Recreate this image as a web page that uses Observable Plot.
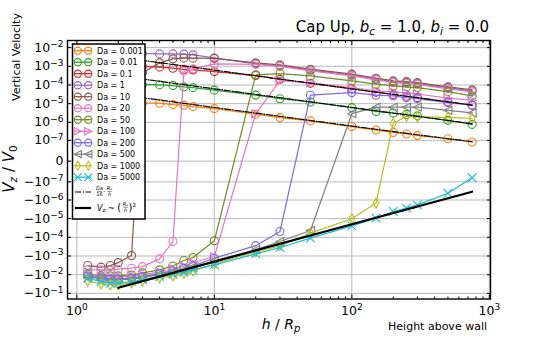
<!DOCTYPE html>
<html><head><meta charset="utf-8">
<script src="https://cdn.jsdelivr.net/npm/d3@7"></script>
<script src="https://cdn.jsdelivr.net/npm/@observablehq/plot@0.6"></script>
<style>body{margin:0;background:#fff} svg{display:block}</style>
</head><body><div id="chart"></div>
<script>
// ---- data (h / Rp values shared by every series) ----
const heights = [1.2, 1.5, 1.75, 2, 2.5, 3, 4, 5, 6, 7, 10, 20, 30, 50, 100, 150, 200, 250, 300, 500, 750];
const da0001 = [1.32e-5, 1.32e-5, 1.24e-5, 1.24e-5, 1.17e-5, 1.10e-5, 1.06e-5, 8.9e-6, 8.3e-6, 6.95e-6, 5.43e-6, 2.72e-6, 1.79e-6, 1.19e-6, 5.89e-7, 3.78e-7, 2.81e-7, 2.31e-7, 1.87e-7, 1.24e-7, 8.1e-8];
const da001 = [1.29e-4, 1.29e-4, 1.22e-4, 1.22e-4, 1.14e-4, 1.08e-4, 1.01e-4, 9.3e-5, 7.9e-5, 7.2e-5, 5.3e-5, 2.87e-5, 1.84e-5, 1.23e-5, 6.1e-6, 3.84e-6, 3.12e-6, 2.65e-6, 2.21e-6, 1.27e-6, 7.7e-7];
const da01 = [1.19e-3, 1.19e-3, 1.12e-3, 1.12e-3, 1.05e-3, 9.9e-4, 9.0e-4, 7.9e-4, 6.8e-4, 6.4e-4, 5.2e-4, 3.2e-4, 2.0e-4, 1.22e-4, 6.2e-5, 4.1e-5, 3.1e-5, 2.5e-5, 2.1e-5, 1.24e-5, 8.3e-6];
const da1 = [5.25e-3, 5.25e-3, 5.25e-3, 5.25e-3, 4.9e-3, 4.9e-3, 4.6e-3, 4.6e-3, 4.5e-3, 4.1e-3, 2.8e-3, 1.35e-3, 1.05e-3, 6.2e-4, 3.35e-4, 2.04e-4, 1.46e-4, 1.34e-4, 1.19e-4, 7.0e-5, 4.8e-5];
const da10 = [-3.25e-3, -3.96e-3, -3.25e-3, -2.25e-3, -9.5e-4, 4.45e-4, 1.53e-3, 2.5e-3, 2.73e-3, 2.73e-3, 2.66e-3, 1.53e-3, 1.19e-3, 7.0e-4, 3.79e-4, 2.31e-4, 1.66e-4, 1.52e-4, 1.34e-4, 7.9e-5, 5.46e-5];
const da20 = [-5.5e-3, -5.5e-3, -5.9e-3, -5.1e-3, -4.5e-3, -3.7e-3, -1.42e-3, -1.68e-4, 5.5e-4, 7.3e-4, 1.35e-3, 1.27e-3, 9.9e-4, 5.7e-4, 3.07e-4, 1.87e-4, 1.34e-4, 1.22e-4, 1.08e-4, 6.2e-5, 4.3e-5];
const da50 = [-9.1e-3, -1.16e-2, -1.16e-2, -1.16e-2, -1.03e-2, -8.0e-3, -5.5e-3, -3.4e-3, -1.75e-3, -1.21e-3, -1.54e-4, 3.5e-4, 4.1e-4, 3.07e-4, 1.66e-4, 1.1e-4, 8.9e-5, 7.9e-5, 7.3e-5, 4.4e-5, 2.6e-5];
const da100 = [-1.03e-2, -1.31e-2, -1.31e-2, -1.31e-2, -1.16e-2, -1.03e-2, -7.1e-3, -4.9e-3, -3.4e-3, -2.3e-3, -1.07e-3, 2.9e-6, 1.66e-4, 1.34e-4, 7.0e-5, 4.8e-5, 4.3e-5, 3.8e-5, 3.3e-5, 2.0e-5, 1.53e-5];
const da200 = [-1.16e-2, -1.48e-2, -1.68e-2, -1.68e-2, -1.48e-2, -1.31e-2, -8.5e-3, -6.3e-3, -4.6e-3, -3.4e-3, -1.31e-3, -2.8e-4, -4.9e-5, 2.84e-5, 3.9e-5, 2.84e-5, 2.6e-5, 2.1e-5, 1.87e-5, 1.14e-5, 8.3e-6];
const da500 = [-1.31e-2, -1.68e-2, -1.9e-2, -1.9e-2, -1.68e-2, -1.48e-2, -9.6e-3, -7.1e-3, -5.5e-3, -4.1e-3, -1.82e-3, -4.7e-4, -1.68e-4, -4.3e-5, 2.9e-6, 6.5e-6, 6.5e-6, 6.5e-6, 6.5e-6, 4.35e-6, 3.2e-6];
const da1000 = [-2.15e-2, -3.1e-2, -3.5e-2, -3.5e-2, -2.75e-2, -2.15e-2, -1.48e-2, -1.16e-2, -8.5e-3, -6.3e-3, -2.6e-3, -6.0e-4, -2.9e-4, -6.0e-5, -1.02e-5, -1.47e-6, 8.7e-7, 2.1e-6, 1.95e-6, 1.83e-6, 1.62e-6];
const da5000 = [-1.54e-2, -2.34e-2, -2.86e-2, -2.86e-2, -2.34e-2, -1.9e-2, -1.26e-2, -9.4e-3, -7.35e-3, -5.5e-3, -2.98e-3, -7.7e-4, -3.5e-4, -1.11e-4, -2.43e-5, -9.4e-6, -4.15e-6, -2.73e-6, -1.82e-6, -4.3e-7, -5.7e-8];

const seriesLabels = ["Da = 0.001", "Da = 0.01", "Da = 0.1", "Da = 1", "Da = 10", "Da = 20", "Da = 50", "Da = 100", "Da = 200", "Da = 500", "Da = 1000", "Da = 5000"];
const seriesValues = [da0001, da001, da01, da1, da10, da20, da50, da100, da200, da500, da1000, da5000];
const seriesColors = ["#ff7f0e", "#2ca02c", "#d62728", "#9467bd", "#8c564b", "#e377c2", "#6b8e23", "#e377c2", "#7b68ee", "#7f7f7f", "#bcbd22", "#17becf"];
const seriesMarkers = ["circle", "circle", "circle", "circle", "circle", "circle", "circle", "triRight", "circle", "triLeft", "thinDiamond", "times"];

// reference lines
const guideH = [1.2, 10, 100, 300, 750];
const guideDa0001 = [5.2e-5, 6.25e-6, 6.25e-7, 2.08e-7, 8.3e-8];
const guideDa001 = [5.2e-4, 6.25e-5, 6.25e-6, 2.08e-6, 8.3e-7];
const guideDa01 = [5.2e-3, 6.25e-4, 6.25e-5, 2.08e-5, 8.3e-6];
const slopeH = [2, 10, 100, 750];
const slopeV = [-5e-2, -2e-3, -2e-5, -3.56e-7];

// ticks
const xMajor = [1, 10, 100, 1000];
const xMinor = [2,3,4,5,6,7,8,9,20,30,40,50,60,70,80,90,200,300,400,500,600,700,800,900];
const yTicks = [1e-2, 1e-3, 1e-4, 1e-5, 1e-6, 1e-7, 0, -1e-7, -1e-6, -1e-5, -1e-4, -1e-3, -1e-2, -1e-1];

// ---- symbols ----
const symbolsByName = {
  circle: "circle",
  times: "times",
  triRight: {draw(c, size) { const r = Math.sqrt(size / Math.PI); c.moveTo(r, 0); c.lineTo(-r, -r); c.lineTo(-r, r); c.closePath(); }},
  triLeft: {draw(c, size) { const r = Math.sqrt(size / Math.PI); c.moveTo(-r, 0); c.lineTo(r, -r); c.lineTo(r, r); c.closePath(); }},
  thinDiamond: {draw(c, size) { const r = Math.sqrt(size / Math.PI); c.moveTo(0, -1.25 * r); c.lineTo(0.75 * r, 0); c.lineTo(0, 1.25 * r); c.lineTo(-0.75 * r, 0); c.closePath(); }}
};

const rows = [];
seriesLabels.forEach((name, i) => heights.forEach((h, j) => rows.push({name, h, v: seriesValues[i][j]})));
const guides = [];
[guideDa0001, guideDa001, guideDa01].forEach((arr, i) => guideH.forEach((h, j) => guides.push({g: i, h, v: arr[j]})));
const slope = slopeH.map((h, j) => ({h, v: slopeV[j]}));

const fmt = (d) => {
  if (d === 0) return "0";
  const e = Math.round(Math.log10(Math.abs(d)));
  return (d < 0 ? "\u2212" : "") + "10^" + String(e).replace("-", "\u2212");
};

const seriesMarks = [];
seriesLabels.forEach((name, i) => {
  const data = rows.filter(d => d.name === name);
  seriesMarks.push(Plot.line(data, {x: "h", y: "v", stroke: seriesColors[i], strokeWidth: 1.2}));
  seriesMarks.push(Plot.dot(data, {x: "h", y: "v", stroke: seriesColors[i], fill: "none", r: 4, strokeWidth: 1.1, symbol: symbolsByName[seriesMarkers[i]]}));
});

const chart = Plot.plot({
  width: 545, height: 337,
  marginLeft: 67, marginRight: 55, marginTop: 40, marginBottom: 38.5,
  x: {type: "log", domain: [0.855, 1020]},
  y: {type: "symlog", constant: 8.4e-9, domain: [-0.2, 0.024]},
  style: {fontFamily: "DejaVu Sans", fontSize: "12.5px", color: "black", background: "white"},
  marks: [
    Plot.gridX({ticks: xMajor, stroke: "#b8b8b8", strokeOpacity: 1, strokeWidth: 1}),
    Plot.gridY({ticks: yTicks, stroke: "#b8b8b8", strokeOpacity: 1, strokeWidth: 1}),
    ...seriesMarks,
    Plot.line(guides, {x: "h", y: "v", z: "g", stroke: "black", strokeWidth: 1.2, strokeDasharray: "6.4,1.6,1,1.6"}),
    Plot.line(slope, {x: "h", y: "v", stroke: "black", strokeWidth: 2.2}),
    Plot.frame({stroke: "black", strokeWidth: 1.4}),
    Plot.axisX({anchor: "bottom", ticks: xMajor, tickSize: 0, tickPadding: 7, tickFormat: fmt, label: null}),
    Plot.axisY({anchor: "left", ticks: yTicks, tickSize: 0, tickPadding: 4, tickFormat: fmt, label: null}),
    Plot.axisX({anchor: "bottom", ticks: xMajor, tickSize: -4, tickFormat: () => "", label: null}),
    Plot.axisX({anchor: "bottom", ticks: xMinor, tickSize: -2, tickFormat: () => "", label: null}),
    Plot.axisX({anchor: "top", ticks: xMajor, tickSize: -4, tickFormat: () => "", label: null}),
    Plot.axisX({anchor: "top", ticks: xMinor, tickSize: -2, tickFormat: () => "", label: null}),
    Plot.axisY({anchor: "left", ticks: yTicks, tickSize: -4, tickFormat: () => "", label: null}),
    Plot.axisY({anchor: "right", ticks: yTicks, tickSize: -4, tickFormat: () => "", label: null})
  ]
});
document.getElementById("chart").appendChild(chart);

// superscripts in tick labels
const svg = d3.select(chart);
svg.selectAll("text").each(function() {
  const t = this.textContent;
  if (!t.includes("^")) return;
  const [base, exp] = t.split("^");
  const el = d3.select(this);
  el.text(null);
  el.append("tspan").text(base);
  el.append("tspan").attr("dy", "-0.5em").attr("font-size", "72%").text(exp);
});

// titles and labels
const ff = "DejaVu Sans";
const title = svg.append("text").attr("x", 489).attr("y", 32).attr("text-anchor", "end").attr("font-family", ff).attr("font-size", 15).attr("fill", "black");
title.append("tspan").text("Cap Up, ");
title.append("tspan").attr("font-style", "italic").text("b");
title.append("tspan").attr("font-size", 10.5).attr("dy", 3).attr("font-style", "italic").text("c");
title.append("tspan").attr("dy", -3).text(" = 1.0, ");
title.append("tspan").attr("font-style", "italic").text("b");
title.append("tspan").attr("font-size", 10.5).attr("dy", 3).attr("font-style", "italic").text("i");
title.append("tspan").attr("dy", -3).text(" = 0.0");

svg.append("text").attr("transform", "translate(20,57) rotate(-90)").attr("text-anchor", "middle").attr("font-family", ff).attr("font-size", 11).attr("fill", "black").text("Vertical Velocity");

const yl = svg.append("text").attr("transform", "translate(14,169) rotate(-90)").attr("text-anchor", "middle").attr("font-family", ff).attr("font-size", 15).attr("fill", "black");
yl.append("tspan").attr("font-style", "italic").text("V");
yl.append("tspan").attr("font-size", 10.5).attr("dy", 3).attr("font-style", "italic").text("z");
yl.append("tspan").attr("dy", -3).text(" / ");
yl.append("tspan").attr("font-style", "italic").text("V");
yl.append("tspan").attr("font-size", 10.5).attr("dy", 3).text("0");

const xl = svg.append("text").attr("x", 281).attr("y", 329).attr("text-anchor", "middle").attr("font-family", ff).attr("font-size", 14).attr("fill", "black");
xl.append("tspan").attr("font-style", "italic").text("h");
xl.append("tspan").text(" / ");
xl.append("tspan").attr("font-style", "italic").text("R");
xl.append("tspan").attr("font-size", 10).attr("dy", 3).attr("font-style", "italic").text("p");

svg.append("text").attr("x", 487).attr("y", 329.5).attr("text-anchor", "end").attr("font-family", ff).attr("font-size", 11).attr("fill", "black").text("Height above wall");

// legend
const lg = svg.append("g").attr("font-family", ff).attr("font-size", 8).attr("fill", "black").attr("text-anchor", "start");
lg.append("rect").attr("x", 72.5).attr("y", 44).attr("width", 72.5).attr("height", 175).attr("fill", "white").attr("stroke", "black").attr("stroke-width", 1.5);
seriesLabels.forEach((name, i) => {
  const y = 50.7 + 11.5 * i;
  lg.append("line").attr("x1", 74.5).attr("x2", 91.5).attr("y1", y).attr("y2", y).attr("stroke", seriesColors[i]).attr("stroke-width", 1.3);
  const sym = symbolsByName[seriesMarkers[i]];
  const st = sym === "circle" ? d3.symbolCircle : sym === "times" ? d3.symbolTimes : sym;
  [77.8, 88.3].forEach(x => {
    lg.append("path").attr("transform", `translate(${x},${y})`).attr("d", d3.symbol(st, Math.PI * 3.6 * 3.6)()).attr("fill", "none").attr("stroke", seriesColors[i]).attr("stroke-width", 1.1);
  });
  lg.append("text").attr("x", 97).attr("y", y + 2.9).attr("text-anchor", "start").text(name);
});
// guide entries
lg.append("line").attr("x1", 75).attr("x2", 91).attr("y1", 192).attr("y2", 192).attr("stroke", "black").attr("stroke-width", 1.2).attr("stroke-dasharray", "6.4,1.6,1,1.6");
const g1 = lg.append("g").attr("font-size", 5).attr("font-style", "italic");
g1.append("text").attr("x", 99.5).attr("y", 190.3).attr("text-anchor", "middle").text("Da");
g1.append("line").attr("x1", 97).attr("x2", 102).attr("y1", 191.5).attr("y2", 191.5).attr("stroke", "black").attr("stroke-width", 0.4);
g1.append("text").attr("x", 99.5).attr("y", 196.3).attr("text-anchor", "middle").attr("font-style", "normal").text("16");
g1.append("text").attr("x", 104.2).attr("y", 193.5).attr("text-anchor", "middle").attr("font-style", "normal").attr("font-size", 7).text("\u00b7");
g1.append("text").attr("x", 109.5).attr("y", 190.3).attr("text-anchor", "middle").text("R\u209a");
g1.append("line").attr("x1", 107.3).attr("x2", 111.7).attr("y1", 191.5).attr("y2", 191.5).attr("stroke", "black").attr("stroke-width", 0.4);
g1.append("text").attr("x", 109.5).attr("y", 196.3).attr("text-anchor", "middle").text("h");

lg.append("line").attr("x1", 75).attr("x2", 91).attr("y1", 208).attr("y2", 208).attr("stroke", "black").attr("stroke-width", 2.2);
const g2 = lg.append("text").attr("x", 97).attr("y", 210.5).attr("text-anchor", "start");
g2.append("tspan").attr("font-style", "italic").text("V");
g2.append("tspan").attr("font-size", 5.5).attr("dy", 1.5).attr("font-style", "italic").text("z");
g2.append("tspan").attr("dy", -1.5).text(" ~ ");
g2.append("tspan").attr("font-size", 10).attr("dy", 0.5).text("(");
const frx = 125.5;
lg.append("text").attr("x", frx).attr("y", 205.8).attr("text-anchor", "middle").attr("font-size", 5).attr("font-style", "italic").text("R\u209a");
lg.append("line").attr("x1", frx - 2.5).attr("x2", frx + 2.5).attr("y1", 207.3).attr("y2", 207.3).attr("stroke", "black").attr("stroke-width", 0.4);
lg.append("text").attr("x", frx).attr("y", 212.2).attr("text-anchor", "middle").attr("font-size", 5).attr("font-style", "italic").text("h");
const g3 = lg.append("text").attr("x", 128.5).attr("y", 211).attr("text-anchor", "start");
g3.append("tspan").attr("font-size", 10).text(")");
g3.append("tspan").attr("font-size", 5.5).attr("dy", -4.5).text("2");
</script>
</body></html>
